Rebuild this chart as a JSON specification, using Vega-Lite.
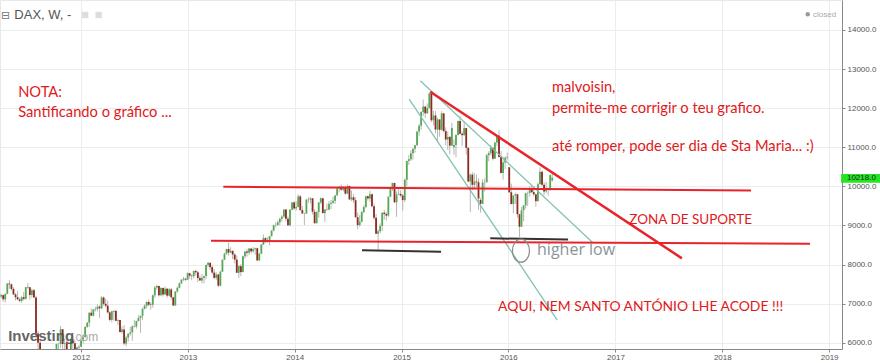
{
"$schema":"https://vega.github.io/schema/vega-lite/v6.json",
"width":842,"height":349,
"autosize":{"type":"none"},
"padding":{"left":0,"top":0,"right":38,"bottom":14},
"background":"white",
"config":{"view":{"stroke":"#e8e8e8"},"font":"Liberation Sans",
 "axis":{"labelFontSize":8,"labelColor":"#555555","tickColor":"#888888","domainColor":"#888888","gridColor":"#ececec","tickSize":3,"labelFont":"Liberation Sans"}},
"datasets":{
"c":[
{"d":"2011-04-04","o":7180,"h":7250,"l":7150,"c":7217},
{"d":"2011-04-11","o":7217,"h":7230,"l":7050,"c":7110},
{"d":"2011-04-18","o":7110,"h":7260,"l":7030,"c":7250},
{"d":"2011-04-25","o":7250,"h":7520,"l":7240,"c":7514},
{"d":"2011-05-02","o":7514,"h":7600,"l":7380,"c":7492},
{"d":"2011-05-09","o":7492,"h":7510,"l":7330,"c":7375},
{"d":"2011-05-16","o":7375,"h":7420,"l":7220,"c":7234},
{"d":"2011-05-23","o":7234,"h":7270,"l":7080,"c":7163},
{"d":"2011-05-30","o":7163,"h":7320,"l":7100,"c":7109},
{"d":"2011-06-06","o":7109,"h":7150,"l":7040,"c":7070},
{"d":"2011-06-13","o":7070,"h":7190,"l":7020,"c":7164},
{"d":"2011-06-20","o":7164,"h":7300,"l":7080,"c":7122},
{"d":"2011-06-27","o":7122,"h":7430,"l":7100,"c":7419},
{"d":"2011-07-04","o":7400,"h":7530,"l":7380,"c":7419},
{"d":"2011-07-11","o":7419,"h":7420,"l":7100,"c":7220},
{"d":"2011-07-18","o":7220,"h":7380,"l":7150,"c":7344},
{"d":"2011-07-25","o":7344,"h":7380,"l":7150,"c":7159},
{"d":"2011-08-01","o":7159,"h":7200,"l":6200,"c":6236},
{"d":"2011-08-08","o":6236,"h":6300,"l":5600,"c":5997},
{"d":"2011-08-15","o":5997,"h":6050,"l":5450,"c":5480},
{"d":"2011-08-22","o":5480,"h":5700,"l":5400,"c":5537},
{"d":"2011-08-29","o":5537,"h":5800,"l":5230,"c":5246},
{"d":"2011-09-05","o":5246,"h":5400,"l":5100,"c":5190},
{"d":"2011-09-12","o":5190,"h":5600,"l":4970,"c":5574},
{"d":"2011-09-19","o":5574,"h":5650,"l":5050,"c":5164},
{"d":"2011-09-26","o":5164,"h":5700,"l":5160,"c":5502},
{"d":"2011-10-03","o":5502,"h":5700,"l":5120,"c":5675},
{"d":"2011-10-10","o":5675,"h":5980,"l":5660,"c":5967},
{"d":"2011-10-17","o":5967,"h":6000,"l":5790,"c":5970},
{"d":"2011-10-24","o":5970,"h":6430,"l":5870,"c":6346},
{"d":"2011-10-31","o":6346,"h":6350,"l":5720,"c":5966},
{"d":"2011-11-07","o":5966,"h":6100,"l":5640,"c":5986},
{"d":"2011-11-14","o":5986,"h":6050,"l":5730,"c":5800},
{"d":"2011-11-21","o":5800,"h":5820,"l":5370,"c":5493},
{"d":"2011-11-28","o":5493,"h":6110,"l":5480,"c":6080},
{"d":"2011-12-05","o":6080,"h":6180,"l":5830,"c":5986},
{"d":"2011-12-12","o":5986,"h":6050,"l":5690,"c":5701},
{"d":"2011-12-19","o":5701,"h":5900,"l":5680,"c":5878},
{"d":"2011-12-26","o":5878,"h":5950,"l":5780,"c":5898},
{"d":"2012-01-02","o":5898,"h":6170,"l":5890,"c":6057},
{"d":"2012-01-09","o":6057,"h":6200,"l":5980,"c":6143},
{"d":"2012-01-16","o":6143,"h":6420,"l":6130,"c":6404},
{"d":"2012-01-23","o":6404,"h":6530,"l":6380,"c":6512},
{"d":"2012-01-30","o":6512,"h":6780,"l":6400,"c":6766},
{"d":"2012-02-06","o":6766,"h":6880,"l":6680,"c":6692},
{"d":"2012-02-13","o":6692,"h":6860,"l":6670,"c":6849},
{"d":"2012-02-20","o":6849,"h":6920,"l":6800,"c":6864},
{"d":"2012-02-27","o":6864,"h":6980,"l":6800,"c":6921},
{"d":"2012-03-05","o":6921,"h":6960,"l":6630,"c":6880},
{"d":"2012-03-12","o":6880,"h":7190,"l":6860,"c":7157},
{"d":"2012-03-19","o":7157,"h":7180,"l":6950,"c":6995},
{"d":"2012-03-26","o":6995,"h":7120,"l":6900,"c":6947},
{"d":"2012-04-02","o":6947,"h":7080,"l":6750,"c":6775},
{"d":"2012-04-09","o":6775,"h":6800,"l":6550,"c":6583},
{"d":"2012-04-16","o":6583,"h":6820,"l":6520,"c":6801},
{"d":"2012-04-23","o":6790,"h":6830,"l":6570,"c":6812},
{"d":"2012-04-30","o":6812,"h":6850,"l":6550,"c":6561},
{"d":"2012-05-07","o":6561,"h":6600,"l":6450,"c":6579},
{"d":"2012-05-14","o":6579,"h":6580,"l":6260,"c":6271},
{"d":"2012-05-21","o":6271,"h":6420,"l":6230,"c":6339},
{"d":"2012-05-28","o":6339,"h":6450,"l":5940,"c":5978},
{"d":"2012-06-04","o":5978,"h":6180,"l":5910,"c":6130},
{"d":"2012-06-11","o":6130,"h":6240,"l":6030,"c":6229},
{"d":"2012-06-18","o":6229,"h":6410,"l":6180,"c":6263},
{"d":"2012-06-25","o":6263,"h":6450,"l":6050,"c":6416},
{"d":"2012-07-02","o":6416,"h":6580,"l":6390,"c":6410},
{"d":"2012-07-09","o":6410,"h":6560,"l":6360,"c":6557},
{"d":"2012-07-16","o":6557,"h":6700,"l":6540,"c":6630},
{"d":"2012-07-23","o":6630,"h":6690,"l":6250,"c":6689},
{"d":"2012-07-30","o":6689,"h":6900,"l":6580,"c":6865},
{"d":"2012-08-06","o":6865,"h":6980,"l":6850,"c":6945},
{"d":"2012-08-13","o":6945,"h":7060,"l":6880,"c":7041},
{"d":"2012-08-20","o":7041,"h":7100,"l":6930,"c":6971},
{"d":"2012-08-27","o":6980,"h":7040,"l":6850,"c":6970},
{"d":"2012-09-03","o":6970,"h":7230,"l":6900,"c":7214},
{"d":"2012-09-10","o":7214,"h":7450,"l":7150,"c":7412},
{"d":"2012-09-17","o":7412,"h":7480,"l":7360,"c":7451},
{"d":"2012-09-24","o":7451,"h":7460,"l":7180,"c":7216},
{"d":"2012-10-01","o":7216,"h":7420,"l":7200,"c":7398},
{"d":"2012-10-08","o":7398,"h":7410,"l":7180,"c":7233},
{"d":"2012-10-15","o":7233,"h":7440,"l":7220,"c":7380},
{"d":"2012-10-22","o":7380,"h":7400,"l":7150,"c":7204},
{"d":"2012-10-29","o":7204,"h":7400,"l":7180,"c":7363},
{"d":"2012-11-05","o":7363,"h":7400,"l":7100,"c":7163},
{"d":"2012-11-12","o":7163,"h":7170,"l":6950,"c":6951},
{"d":"2012-11-19","o":6951,"h":7320,"l":6950,"c":7309},
{"d":"2012-11-26","o":7309,"h":7440,"l":7280,"c":7405},
{"d":"2012-12-03","o":7405,"h":7540,"l":7390,"c":7518},
{"d":"2012-12-10","o":7518,"h":7620,"l":7500,"c":7614},
{"d":"2012-12-17","o":7614,"h":7680,"l":7580,"c":7636},
{"d":"2012-12-24","o":7636,"h":7660,"l":7580,"c":7612},
{"d":"2012-12-31","o":7612,"h":7800,"l":7610,"c":7776},
{"d":"2013-01-07","o":7776,"h":7790,"l":7640,"c":7715},
{"d":"2013-01-14","o":7715,"h":7750,"l":7600,"c":7702},
{"d":"2013-01-21","o":7702,"h":7850,"l":7650,"c":7833},
{"d":"2013-01-28","o":7833,"h":7870,"l":7720,"c":7800},
{"d":"2013-02-04","o":7800,"h":7840,"l":7550,"c":7653},
{"d":"2013-02-11","o":7653,"h":7720,"l":7580,"c":7593},
{"d":"2013-02-18","o":7593,"h":7760,"l":7520,"c":7661},
{"d":"2013-02-25","o":7661,"h":7710,"l":7520,"c":7708},
{"d":"2013-03-04","o":7708,"h":8000,"l":7620,"c":7986},
{"d":"2013-03-11","o":7986,"h":8060,"l":7930,"c":8043},
{"d":"2013-03-18","o":8043,"h":8050,"l":7860,"c":7932},
{"d":"2013-03-25","o":7932,"h":7990,"l":7750,"c":7795},
{"d":"2013-04-01","o":7795,"h":7880,"l":7630,"c":7659},
{"d":"2013-04-08","o":7659,"h":7800,"l":7600,"c":7744},
{"d":"2013-04-15","o":7744,"h":7760,"l":7420,"c":7459},
{"d":"2013-04-22","o":7459,"h":7840,"l":7440,"c":7815},
{"d":"2013-04-29","o":7815,"h":8130,"l":7810,"c":8122},
{"d":"2013-05-06","o":8122,"h":8300,"l":8120,"c":8278},
{"d":"2013-05-13","o":8278,"h":8400,"l":8250,"c":8398},
{"d":"2013-05-20","o":8398,"h":8560,"l":8230,"c":8305},
{"d":"2013-05-27","o":8305,"h":8440,"l":8290,"c":8349},
{"d":"2013-06-03","o":8349,"h":8360,"l":8140,"c":8254},
{"d":"2013-06-10","o":8254,"h":8290,"l":8030,"c":8127},
{"d":"2013-06-17","o":8127,"h":8230,"l":7780,"c":7789},
{"d":"2013-06-24","o":7789,"h":7990,"l":7650,"c":7959},
{"d":"2013-07-01","o":7959,"h":8010,"l":7700,"c":7806},
{"d":"2013-07-08","o":7806,"h":8230,"l":7800,"c":8212},
{"d":"2013-07-15","o":8212,"h":8340,"l":8150,"c":8331},
{"d":"2013-07-22","o":8331,"h":8400,"l":8200,"c":8300},
{"d":"2013-07-29","o":8300,"h":8420,"l":8240,"c":8409},
{"d":"2013-08-05","o":8409,"h":8420,"l":8280,"c":8338},
{"d":"2013-08-12","o":8338,"h":8450,"l":8300,"c":8392},
{"d":"2013-08-19","o":8392,"h":8430,"l":8250,"c":8416},
{"d":"2013-08-26","o":8416,"h":8430,"l":8100,"c":8103},
{"d":"2013-09-02","o":8103,"h":8300,"l":8100,"c":8276},
{"d":"2013-09-09","o":8276,"h":8520,"l":8270,"c":8510},
{"d":"2013-09-16","o":8510,"h":8770,"l":8500,"c":8675},
{"d":"2013-09-23","o":8675,"h":8700,"l":8550,"c":8596},
{"d":"2013-09-30","o":8596,"h":8700,"l":8560,"c":8622},
{"d":"2013-10-07","o":8622,"h":8730,"l":8490,"c":8725},
{"d":"2013-10-14","o":8725,"h":8880,"l":8720,"c":8868},
{"d":"2013-10-21","o":8868,"h":9020,"l":8850,"c":9001},
{"d":"2013-10-28","o":9001,"h":9080,"l":8950,"c":9009},
{"d":"2013-11-04","o":9009,"h":9120,"l":9000,"c":9078},
{"d":"2013-11-11","o":9078,"h":9200,"l":9000,"c":9168},
{"d":"2013-11-18","o":9168,"h":9260,"l":9100,"c":9225},
{"d":"2013-11-25","o":9225,"h":9420,"l":9200,"c":9405},
{"d":"2013-12-02","o":9405,"h":9410,"l":9100,"c":9172},
{"d":"2013-12-09","o":9172,"h":9230,"l":8980,"c":9006},
{"d":"2013-12-16","o":9006,"h":9420,"l":8970,"c":9400},
{"d":"2013-12-23","o":9400,"h":9600,"l":9390,"c":9589},
{"d":"2013-12-30","o":9589,"h":9620,"l":9400,"c":9435},
{"d":"2014-01-06","o":9435,"h":9620,"l":9380,"c":9473},
{"d":"2014-01-13","o":9473,"h":9790,"l":9460,"c":9742},
{"d":"2014-01-20","o":9742,"h":9780,"l":9380,"c":9392},
{"d":"2014-01-27","o":9392,"h":9500,"l":9300,"c":9306},
{"d":"2014-02-03","o":9306,"h":9320,"l":9010,"c":9301},
{"d":"2014-02-10","o":9301,"h":9670,"l":9300,"c":9662},
{"d":"2014-02-17","o":9662,"h":9720,"l":9580,"c":9657},
{"d":"2014-02-24","o":9657,"h":9720,"l":9560,"c":9692},
{"d":"2014-03-03","o":9692,"h":9700,"l":9280,"c":9350},
{"d":"2014-03-10","o":9350,"h":9420,"l":9050,"c":9056},
{"d":"2014-03-17","o":9056,"h":9360,"l":9050,"c":9342},
{"d":"2014-03-24","o":9342,"h":9600,"l":9200,"c":9588},
{"d":"2014-03-31","o":9588,"h":9720,"l":9550,"c":9695},
{"d":"2014-04-07","o":9695,"h":9700,"l":9310,"c":9315},
{"d":"2014-04-14","o":9315,"h":9420,"l":9090,"c":9409},
{"d":"2014-04-21","o":9409,"h":9560,"l":9380,"c":9402},
{"d":"2014-04-28","o":9402,"h":9620,"l":9400,"c":9556},
{"d":"2014-05-05","o":9556,"h":9650,"l":9420,"c":9581},
{"d":"2014-05-12","o":9581,"h":9730,"l":9550,"c":9630},
{"d":"2014-05-19","o":9630,"h":9770,"l":9550,"c":9768},
{"d":"2014-05-26","o":9768,"h":9950,"l":9760,"c":9943},
{"d":"2014-06-02","o":9943,"h":10000,"l":9850,"c":9988},
{"d":"2014-06-09","o":9988,"h":10050,"l":9880,"c":9912},
{"d":"2014-06-16","o":9912,"h":10010,"l":9870,"c":9987},
{"d":"2014-06-23","o":9987,"h":10000,"l":9780,"c":9815},
{"d":"2014-06-30","o":9815,"h":10050,"l":9800,"c":10009},
{"d":"2014-07-07","o":10009,"h":10020,"l":9650,"c":9666},
{"d":"2014-07-14","o":9666,"h":9890,"l":9620,"c":9720},
{"d":"2014-07-21","o":9720,"h":9800,"l":9580,"c":9644},
{"d":"2014-07-28","o":9644,"h":9720,"l":9200,"c":9210},
{"d":"2014-08-04","o":9210,"h":9330,"l":8900,"c":9009},
{"d":"2014-08-11","o":9009,"h":9270,"l":8970,"c":9093},
{"d":"2014-08-18","o":9093,"h":9370,"l":9080,"c":9339},
{"d":"2014-08-25","o":9339,"h":9520,"l":9320,"c":9470},
{"d":"2014-09-01","o":9470,"h":9760,"l":9440,"c":9747},
{"d":"2014-09-08","o":9747,"h":9760,"l":9640,"c":9691},
{"d":"2014-09-15","o":9691,"h":9890,"l":9600,"c":9799},
{"d":"2014-09-22","o":9799,"h":9810,"l":9460,"c":9490},
{"d":"2014-09-29","o":9490,"h":9560,"l":9140,"c":9196},
{"d":"2014-10-06","o":9196,"h":9290,"l":8780,"c":8788},
{"d":"2014-10-13","o":8788,"h":8900,"l":8355,"c":8850},
{"d":"2014-10-20","o":8850,"h":9050,"l":8800,"c":8987},
{"d":"2014-10-27","o":8987,"h":9330,"l":8860,"c":9326},
{"d":"2014-11-03","o":9326,"h":9400,"l":9150,"c":9291},
{"d":"2014-11-10","o":9291,"h":9340,"l":9120,"c":9252},
{"d":"2014-11-17","o":9252,"h":9750,"l":9220,"c":9732},
{"d":"2014-11-24","o":9732,"h":9990,"l":9730,"c":9980},
{"d":"2014-12-01","o":9980,"h":10090,"l":9880,"c":10087},
{"d":"2014-12-08","o":10087,"h":10090,"l":9570,"c":9594},
{"d":"2014-12-15","o":9594,"h":9870,"l":9220,"c":9787},
{"d":"2014-12-22","o":9787,"h":9930,"l":9780,"c":9806},
{"d":"2014-12-29","o":9806,"h":9900,"l":9720,"c":9765},
{"d":"2015-01-05","o":9765,"h":9800,"l":9380,"c":9648},
{"d":"2015-01-12","o":9648,"h":10200,"l":9600,"c":10167},
{"d":"2015-01-19","o":10167,"h":10650,"l":10000,"c":10649},
{"d":"2015-01-26","o":10649,"h":10800,"l":10550,"c":10694},
{"d":"2015-02-02","o":10694,"h":10920,"l":10650,"c":10846},
{"d":"2015-02-09","o":10846,"h":10970,"l":10680,"c":10963},
{"d":"2015-02-16","o":10963,"h":11060,"l":10860,"c":11050},
{"d":"2015-02-23","o":11050,"h":11410,"l":11040,"c":11401},
{"d":"2015-03-02","o":11401,"h":11600,"l":11290,"c":11551},
{"d":"2015-03-09","o":11551,"h":11920,"l":11450,"c":11901},
{"d":"2015-03-16","o":11901,"h":12220,"l":11800,"c":12040},
{"d":"2015-03-23","o":12040,"h":12050,"l":11750,"c":11868},
{"d":"2015-03-30","o":11868,"h":12120,"l":11850,"c":12001},
{"d":"2015-04-06","o":12001,"h":12400,"l":11990,"c":12375},
{"d":"2015-04-13","o":12375,"h":12390,"l":11640,"c":11689},
{"d":"2015-04-20","o":11689,"h":11930,"l":11560,"c":11811},
{"d":"2015-04-27","o":11811,"h":11920,"l":11360,"c":11454},
{"d":"2015-05-04","o":11454,"h":11750,"l":11120,"c":11709},
{"d":"2015-05-11","o":11709,"h":11720,"l":11270,"c":11447},
{"d":"2015-05-18","o":11447,"h":11920,"l":11420,"c":11865},
{"d":"2015-05-25","o":11865,"h":11880,"l":11380,"c":11413},
{"d":"2015-06-01","o":11413,"h":11510,"l":11050,"c":11197},
{"d":"2015-06-08","o":11197,"h":11400,"l":10930,"c":11265},
{"d":"2015-06-15","o":11265,"h":11280,"l":10820,"c":11041},
{"d":"2015-06-22","o":11041,"h":11620,"l":11030,"c":11493},
{"d":"2015-06-29","o":11000,"h":11200,"l":10810,"c":11058},
{"d":"2015-07-06","o":11058,"h":11330,"l":10750,"c":11316},
{"d":"2015-07-13","o":11316,"h":11680,"l":11300,"c":11673},
{"d":"2015-07-20","o":11673,"h":11800,"l":11330,"c":11347},
{"d":"2015-07-27","o":11347,"h":11400,"l":11030,"c":11308},
{"d":"2015-08-03","o":11308,"h":11670,"l":11300,"c":11490},
{"d":"2015-08-10","o":11490,"h":11500,"l":10810,"c":10985},
{"d":"2015-08-17","o":10985,"h":11000,"l":10100,"c":10124},
{"d":"2015-08-24","o":10124,"h":10330,"l":9340,"c":10298},
{"d":"2015-08-31","o":10298,"h":10360,"l":9900,"c":10038},
{"d":"2015-09-07","o":10038,"h":10340,"l":9950,"c":10123},
{"d":"2015-09-14","o":10123,"h":10300,"l":9980,"c":10104},
{"d":"2015-09-21","o":10104,"h":10200,"l":9400,"c":9688},
{"d":"2015-09-28","o":9650,"h":9700,"l":9330,"c":9553},
{"d":"2015-10-05","o":9553,"h":10180,"l":9540,"c":10096},
{"d":"2015-10-12","o":10096,"h":10200,"l":9870,"c":10104},
{"d":"2015-10-19","o":10104,"h":10830,"l":10100,"c":10795},
{"d":"2015-10-26","o":10795,"h":10900,"l":10640,"c":10850},
{"d":"2015-11-02","o":10850,"h":11060,"l":10800,"c":10988},
{"d":"2015-11-09","o":10988,"h":10990,"l":10660,"c":10708},
{"d":"2015-11-16","o":10708,"h":11140,"l":10700,"c":11119},
{"d":"2015-11-23","o":11119,"h":11310,"l":11030,"c":11293},
{"d":"2015-11-30","o":11293,"h":11430,"l":10740,"c":10752},
{"d":"2015-12-07","o":10752,"h":10900,"l":10330,"c":10340},
{"d":"2015-12-14","o":10340,"h":10760,"l":10170,"c":10608},
{"d":"2015-12-21","o":10608,"h":10770,"l":10440,"c":10728},
{"d":"2015-12-28","o":10728,"h":10860,"l":10660,"c":10743},
{"d":"2016-01-04","o":10485,"h":10490,"l":9830,"c":9849},
{"d":"2016-01-11","o":9849,"h":10070,"l":9540,"c":9546},
{"d":"2016-01-18","o":9546,"h":9770,"l":9310,"c":9764},
{"d":"2016-01-25","o":9764,"h":9840,"l":9550,"c":9798},
{"d":"2016-02-01","o":9798,"h":9800,"l":9200,"c":9286},
{"d":"2016-02-08","o":9286,"h":9300,"l":8700,"c":8967},
{"d":"2016-02-15","o":8967,"h":9470,"l":8960,"c":9388},
{"d":"2016-02-22","o":9388,"h":9520,"l":9110,"c":9513},
{"d":"2016-02-29","o":9513,"h":9840,"l":9430,"c":9824},
{"d":"2016-03-07","o":9824,"h":9870,"l":9500,"c":9831},
{"d":"2016-03-14","o":9831,"h":10000,"l":9740,"c":9950},
{"d":"2016-03-21","o":9950,"h":10020,"l":9820,"c":9851},
{"d":"2016-03-28","o":9851,"h":10000,"l":9750,"c":9794},
{"d":"2016-04-04","o":9794,"h":9810,"l":9480,"c":9622},
{"d":"2016-04-11","o":9622,"h":10090,"l":9600,"c":10051},
{"d":"2016-04-18","o":10051,"h":10490,"l":10050,"c":10373},
{"d":"2016-04-25","o":10373,"h":10400,"l":10000,"c":10039},
{"d":"2016-05-02","o":10039,"h":10100,"l":9770,"c":9870},
{"d":"2016-05-09","o":9870,"h":10110,"l":9830,"c":9952},
{"d":"2016-05-16","o":9952,"h":9970,"l":9760,"c":9916},
{"d":"2016-05-23","o":9916,"h":10300,"l":9880,"c":10287},
{"d":"2016-05-30","o":10150,"h":10330,"l":10120,"c":10218}
],
"lines":[
{"k":"red","x1":"2013-05-02","y1":9990,"x2":"2018-04-09","y2":9893},
{"k":"red","x1":"2013-03-21","y1":8608,"x2":"2018-10-28","y2":8532},
{"k":"red2","x1":"2015-04-09","y1":12420,"x2":"2017-08-16","y2":8158},
{"k":"teal","x1":"2015-03-06","y1":12702,"x2":"2016-10-13","y2":8575},
{"k":"teal","x1":"2015-01-27","y1":12233,"x2":"2016-06-16","y2":6580},
{"k":"black","x1":"2014-08-19","y1":8363,"x2":"2015-05-16","y2":8327},
{"k":"black","x1":"2015-10-31","y1":8670,"x2":"2016-07-23","y2":8639}
],
"notes":[
{"g":"low","d":"2011-06-01","v":12292,"t":"NOTA:"},
{"g":"low","d":"2011-06-01","v":11781,"t":"Santificando o gráfico ..."},
{"g":"low","d":"2016-05-29","v":12420,"t":"malvoisin,"},
{"g":"low","d":"2016-05-29","v":11875,"t":"permite-me corrigir o teu grafico."},
{"g":"low","d":"2016-05-29","v":10911,"t":"até romper, pode ser dia de Sta Maria... :)"},
{"g":"zona","d":"2017-02-17","v":9036,"t":"ZONA DE SUPORTE"},
{"g":"aqui","d":"2015-11-27","v":6818,"t":"AQUI, NEM SANTO ANTÓNIO LHE ACODE !!!"}
],
"hl":[{"d":"2016-04-08","v":8243,"t":"higher low"}],
"circ":[{"d":"2016-02-13","v":8353}],
"tag":[{"d":"2019-02-11","d2":"2019-06-30","v":10315,"v2":10092,"dt":"2019-03-03","p":10218,"t":"10218.0"}],
"logo1":[{"d":"2011-04-28","v":6043,"t":"Investing"}],
"logo2":[{"d":"2011-12-03","v":6043,"t":".com"}],
"title":[{"d":"2011-05-19","v":14272,"t":"DAX, W, -"}],
"icon":[{"d":"2011-04-03","v":14272,"t":"⊟"}],
"sq":[{"d":"2012-01-16","v":14382},{"d":"2012-03-02","v":14382}],
"dot":[{"d":"2018-10-20","v":14400}],
"closed":[{"d":"2018-11-07","v":14331,"t":"closed"}]
},
"layer":[
{"data":{"name":"c"},"mark":{"type":"rule","clip":true,"color":"#a3a3a3","strokeWidth":0.8},
 "encoding":{
  "x":{"field":"d","type":"temporal","title":null,"scale":{"type":"utc","domain":[{"year":2011,"month":"mar","date":31,"utc":true},{"year":2019,"month":"feb","date":14,"utc":true}],"nice":false},
   "axis":{"title":null,"values":[{"year":2012,"utc":true},{"year":2013,"utc":true},{"year":2014,"utc":true},{"year":2015,"utc":true},{"year":2016,"utc":true},{"year":2017,"utc":true},{"year":2018,"utc":true},{"year":2019,"utc":true}],"format":"%Y","formatType":"utc","grid":true,"labelPadding":1,"labelFlush":false}},
  "y":{"field":"l","type":"quantitative","title":null,"scale":{"domain":[5839,14766],"zero":false,"nice":false},
   "axis":{"title":null,"orient":"right","values":[6000,7000,8000,9000,10000,11000,12000,13000,14000],"format":".1f","grid":true,"labelPadding":2}},
  "y2":{"field":"h"}}},
{"data":{"name":"c"},"mark":{"type":"rule","clip":true,"strokeWidth":1.8,"strokeCap":"butt"},
 "encoding":{"x":{"field":"d","type":"temporal","title":null},"y":{"field":"o","type":"quantitative","title":null},"y2":{"field":"c"},
  "color":{"condition":{"test":"datum.c >= datum.o","value":"#55a855"},"value":"#8b2b22"}}},
{"data":{"name":"lines"},"transform":[{"filter":"datum.k == 'teal'"}],"mark":{"type":"rule","color":"#86c2b4","strokeWidth":1.3},
 "encoding":{"x":{"field":"x1","type":"temporal","title":null},"x2":{"field":"x2"},"y":{"field":"y1","type":"quantitative","title":null},"y2":{"field":"y2"}}},
{"data":{"name":"lines"},"transform":[{"filter":"datum.k == 'black'"}],"mark":{"type":"rule","color":"#333333","strokeWidth":2},
 "encoding":{"x":{"field":"x1","type":"temporal","title":null},"x2":{"field":"x2"},"y":{"field":"y1","type":"quantitative","title":null},"y2":{"field":"y2"}}},
{"data":{"name":"lines"},"transform":[{"filter":"datum.k == 'red'"}],"mark":{"type":"rule","color":"#e8242a","strokeWidth":2},
 "encoding":{"x":{"field":"x1","type":"temporal","title":null},"x2":{"field":"x2"},"y":{"field":"y1","type":"quantitative","title":null},"y2":{"field":"y2"}}},
{"data":{"name":"lines"},"transform":[{"filter":"datum.k == 'red2'"}],"mark":{"type":"rule","color":"#e8242a","strokeWidth":2.5},
 "encoding":{"x":{"field":"x1","type":"temporal","title":null},"x2":{"field":"x2"},"y":{"field":"y1","type":"quantitative","title":null},"y2":{"field":"y2"}}},
{"data":{"name":"circ"},"mark":{"type":"point","shape":"M-0.74,0A0.74,1,0,1,1,0.74,0A0.74,1,0,1,1,-0.74,0Z","size":529,"filled":false,"stroke":"#8a8a8a","strokeWidth":1.2,"opacity":1},
 "encoding":{"x":{"field":"d","type":"temporal","title":null},"y":{"field":"v","type":"quantitative","title":null}}},
{"data":{"name":"hl"},"mark":{"type":"text","align":"left","baseline":"alphabetic","font":"Open Sans","fontSize":16,"color":"#8a939b"},
 "encoding":{"x":{"field":"d","type":"temporal","title":null},"y":{"field":"v","type":"quantitative","title":null},"text":{"field":"t"}}},
{"data":{"name":"notes"},"transform":[{"filter":"datum.g == 'low'"}],"mark":{"type":"text","align":"left","baseline":"alphabetic","font":"Lato","fontSize":14.7,"color":"#e0191b"},
 "encoding":{"x":{"field":"d","type":"temporal","title":null},"y":{"field":"v","type":"quantitative","title":null},"text":{"field":"t"}}},
{"data":{"name":"notes"},"transform":[{"filter":"datum.g == 'zona'"}],"mark":{"type":"text","align":"left","baseline":"alphabetic","font":"Lato","fontSize":13.5,"color":"#e0191b"},
 "encoding":{"x":{"field":"d","type":"temporal","title":null},"y":{"field":"v","type":"quantitative","title":null},"text":{"field":"t"}}},
{"data":{"name":"notes"},"transform":[{"filter":"datum.g == 'aqui'"}],"mark":{"type":"text","align":"left","baseline":"alphabetic","font":"Lato","fontSize":13.9,"color":"#e0191b"},
 "encoding":{"x":{"field":"d","type":"temporal","title":null},"y":{"field":"v","type":"quantitative","title":null},"text":{"field":"t"}}},
{"data":{"name":"tag"},"mark":{"type":"rect","color":"#22e622"},
 "encoding":{"x":{"field":"d","type":"temporal","title":null},"x2":{"field":"d2"},"y":{"field":"v","type":"quantitative","title":null},"y2":{"field":"v2"}}},
{"data":{"name":"tag"},"mark":{"type":"text","align":"left","baseline":"middle","fontSize":8,"color":"#222222"},
 "encoding":{"x":{"field":"dt","type":"temporal","title":null},"y":{"field":"p","type":"quantitative","title":null},"text":{"field":"t"}}},
{"data":{"name":"logo1"},"mark":{"type":"text","align":"left","baseline":"alphabetic","fontSize":15,"fontWeight":"bold","color":"#555555","opacity":0.9},
 "encoding":{"x":{"field":"d","type":"temporal","title":null},"y":{"field":"v","type":"quantitative","title":null},"text":{"field":"t"}}},
{"data":{"name":"logo2"},"mark":{"type":"text","align":"left","baseline":"alphabetic","fontSize":12,"color":"#aaaaaa"},
 "encoding":{"x":{"field":"d","type":"temporal","title":null},"y":{"field":"v","type":"quantitative","title":null},"text":{"field":"t"}}},
{"data":{"name":"title"},"mark":{"type":"text","align":"left","baseline":"alphabetic","fontSize":13,"color":"#555555"},
 "encoding":{"x":{"field":"d","type":"temporal","title":null},"y":{"field":"v","type":"quantitative","title":null},"text":{"field":"t"}}},
{"data":{"name":"icon"},"mark":{"type":"text","align":"left","baseline":"alphabetic","font":"DejaVu Sans","fontSize":11,"color":"#777777"},
 "encoding":{"x":{"field":"d","type":"temporal","title":null},"y":{"field":"v","type":"quantitative","title":null},"text":{"field":"t"}}},
{"data":{"name":"sq"},"mark":{"type":"point","shape":"square","size":40,"filled":true,"color":"#dddddd","opacity":1},
 "encoding":{"x":{"field":"d","type":"temporal","title":null},"y":{"field":"v","type":"quantitative","title":null}}},
{"data":{"name":"dot"},"mark":{"type":"point","shape":"circle","size":20,"filled":true,"color":"#999999","opacity":1},
 "encoding":{"x":{"field":"d","type":"temporal","title":null},"y":{"field":"v","type":"quantitative","title":null}}},
{"data":{"name":"closed"},"mark":{"type":"text","align":"left","baseline":"alphabetic","fontSize":8,"color":"#aaaaaa"},
 "encoding":{"x":{"field":"d","type":"temporal","title":null},"y":{"field":"v","type":"quantitative","title":null},"text":{"field":"t"}}}
]
}
